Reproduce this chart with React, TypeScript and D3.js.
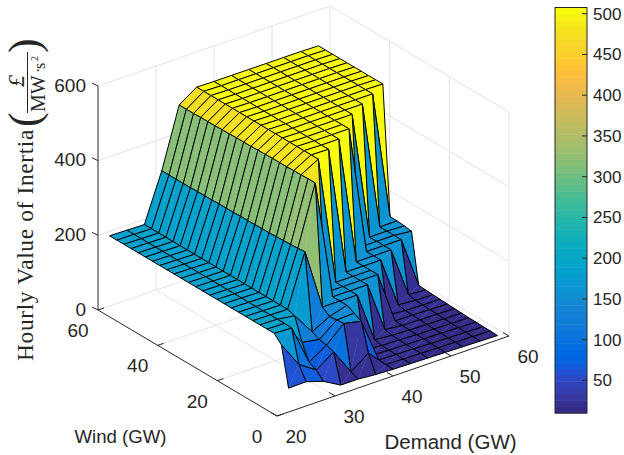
import React from 'react';
import * as d3 from 'd3';

const demandGrid = [22, 25, 28, 31, 34, 37, 40, 43, 46, 49, 52, 55, 58];
const windGrid = [0, 2.4, 4.8, 7.2, 9.6, 12, 14.4, 16.8, 19.2, 21.6, 24, 26.4, 28.8, 31.2, 33.6, 36, 38.4, 40.8, 43.2, 45.6, 48, 50.4, 52.8, 55.2, 57.6, 60];

const z22 = [64, 168, 188, 188, 188, 188, 188, 188, 188, 188, 188, 188, 188, 188, 188, 188, 188, 188, 188, 188, 188, 188, 188, 188, 188, 188];
const z25 = [65, 100, 186, 187, 187, 187, 187, 187, 187, 187, 187, 187, 187, 187, 187, 187, 187, 187, 187, 187, 187, 187, 187, 187, 187, 187];
const z28 = [50, 69, 79, 120, 180, 186, 186, 186, 186, 186, 186, 186, 186, 186, 186, 186, 186, 186, 186, 186, 186, 186, 186, 186, 186, 186];
const z31 = [24, 101, 108, 112, 121, 324, 322, 321, 320, 319, 318, 318, 317, 317, 317, 316, 316, 316, 315, 315, 315, 314, 314, 314, 314, 314];
const z34 = [24, 32, 150, 148, 146, 160, 481, 481, 480, 480, 479, 479, 479, 478, 478, 477, 477, 477, 476, 476, 475, 475, 475, 474, 474, 474];
const z37 = [20, 66, 140, 150, 160, 160, 160, 160, 506, 506, 506, 506, 506, 506, 506, 506, 506, 506, 506, 506, 506, 506, 506, 506, 506, 506];
const z40 = [18, 19, 20, 21, 24, 160, 160, 160, 160, 505, 505, 505, 505, 505, 505, 505, 505, 505, 505, 505, 505, 505, 505, 505, 505, 505];
const z43 = [17, 18, 19, 19, 20, 24, 160, 160, 160, 160, 505, 505, 505, 505, 505, 505, 505, 505, 505, 505, 505, 505, 505, 505, 505, 505];
const z46 = [16, 17, 18, 18, 19, 20, 24, 160, 160, 160, 160, 505, 505, 505, 505, 505, 505, 505, 505, 505, 505, 505, 505, 505, 505, 505];
const z49 = [15, 16, 16, 17, 17, 18, 19, 20, 24, 160, 160, 160, 160, 505, 505, 505, 505, 505, 505, 505, 505, 505, 505, 505, 505, 505];
const z52 = [14, 15, 15, 16, 16, 17, 18, 19, 20, 24, 160, 160, 160, 160, 505, 505, 505, 505, 505, 505, 505, 505, 505, 505, 505, 505];
const z55 = [13, 14, 14, 15, 15, 16, 17, 18, 19, 20, 24, 160, 160, 160, 160, 505, 505, 505, 505, 505, 505, 505, 505, 505, 505, 505];
const z58 = [12, 13, 13, 14, 14, 15, 16, 17, 18, 19, 20, 22, 155, 158, 160, 160, 504, 504, 504, 504, 504, 504, 504, 504, 504, 504];
const zRows = [z22, z25, z28, z31, z34, z37, z40, z43, z46, z49, z52, z55, z58];

const zTicks = [0, 200, 400, 600];
const windTicks = [0, 20, 40, 60];
const demandTicks = [20, 30, 40, 50, 60];
const colorTicks = [50, 100, 150, 200, 250, 300, 350, 400, 450, 500];

const parula = [
  [.2081, .1663, .5292], [.2116, .1898, .5777], [.2123, .2138, .6270], [.2081, .2386, .6771], [.1959, .2645, .7279], [.1707, .2919, .7792], [.1253, .3242, .8303], [.0591, .3598, .8683],
  [.0117, .3875, .8820], [.0060, .4086, .8828], [.0165, .4266, .8786], [.0329, .4430, .8720], [.0498, .4586, .8641], [.0629, .4737, .8554], [.0723, .4887, .8467], [.0779, .5040, .8384],
  [.0793, .5200, .8312], [.0749, .5375, .8263], [.0641, .5570, .8240], [.0488, .5772, .8228], [.0343, .5966, .8199], [.0265, .6137, .8135], [.0239, .6287, .8038], [.0231, .6418, .7913],
  [.0228, .6535, .7768], [.0267, .6642, .7607], [.0384, .6743, .7436], [.0590, .6838, .7254], [.0843, .6928, .7062], [.1133, .7015, .6859], [.1453, .7098, .6646], [.1801, .7177, .6424],
  [.2178, .7250, .6193], [.2586, .7317, .5954], [.3022, .7376, .5712], [.3482, .7424, .5473], [.3953, .7459, .5244], [.4420, .7481, .5033], [.4871, .7491, .4840], [.5300, .7491, .4661],
  [.5709, .7485, .4494], [.6099, .7473, .4337], [.6473, .7456, .4188], [.6834, .7435, .4044], [.7184, .7411, .3905], [.7525, .7384, .3768], [.7858, .7356, .3633], [.8185, .7327, .3498],
  [.8507, .7299, .3360], [.8824, .7274, .3217], [.9139, .7258, .3063], [.9450, .7261, .2886], [.9739, .7314, .2666], [.9938, .7455, .2403], [.9990, .7653, .2164], [.9955, .7861, .1967],
  [.9880, .8066, .1794], [.9789, .8271, .1633], [.9697, .8481, .1475], [.9626, .8705, .1309], [.9589, .8949, .1132], [.9598, .9218, .0948], [.9661, .9514, .0755], [.9763, .9831, .0538],
];

const C_MIN = 10;
const C_MAX = 507.6;
const colorOf = (v: number) => {
  const i = Math.max(0, Math.min(63, Math.floor(((v - C_MIN) / (C_MAX - C_MIN)) * 64)));
  const c = parula[i];
  return d3.rgb(c[0] * 255, c[1] * 255, c[2] * 255).formatHex();
};

const ox = 277;
const oy = 416;
const dX = d3.scaleLinear().domain([20, 60]).range([0, 232]);
const dY = d3.scaleLinear().domain([20, 60]).range([0, -80]);
const wX = d3.scaleLinear().domain([0, 60]).range([0, -179]);
const wY = d3.scaleLinear().domain([0, 60]).range([0, -106]);
const zY = d3.scaleLinear().domain([0, 600]).range([0, -224]);
const px = (d: number, w: number, z: number): [number, number] => [ox + dX(d) + wX(w), oy + dY(d) + wY(w) + zY(z)];
const cbY = d3.scaleLinear().domain([C_MIN, C_MAX]).range([413, 7.5]);

const seg = (a: [number, number], b: [number, number]) => `M${a[0]},${a[1]}L${b[0]},${b[1]}`;
const poly = (pts: [number, number][]) => (d3.line()(pts) as string) + 'Z';

const GRID = '#e3e3e3';
const AX = '#262626';
const font = '"Liberation Sans", Arial, sans-serif';
const serif = '"Liberation Serif", "DejaVu Serif", serif';

export default function App() {
  const grid: string[] = [];
  for (const z of zTicks) {
    grid.push(seg(px(20, 60, z), px(60, 60, z)));
    grid.push(seg(px(60, 60, z), px(60, 0, z)));
  }
  for (const d of demandTicks.slice(1)) {
    grid.push(seg(px(d, 60, 0), px(d, 60, 600)));
    if (d < 60) grid.push(seg(px(d, 60, 0), px(d, 0, 0)));
  }
  for (const w of [0, 20, 40]) {
    grid.push(seg(px(60, w, 0), px(60, w, 600)));
    if (w > 0) grid.push(seg(px(20, w, 0), px(60, w, 0)));
  }

  const cells: React.ReactNode[] = [];
  for (let i = demandGrid.length - 2; i >= 0; i--) {
    for (let j = windGrid.length - 2; j >= 0; j--) {
      const A = px(demandGrid[i], windGrid[j], zRows[i][j]);
      const B = px(demandGrid[i], windGrid[j + 1], zRows[i][j + 1]);
      const C = px(demandGrid[i + 1], windGrid[j + 1], zRows[i + 1][j + 1]);
      const D = px(demandGrid[i + 1], windGrid[j], zRows[i + 1][j]);
      const fill = colorOf(zRows[i][j]);
      cells.push(
        <g key={`${i}-${j}`}>
          <path d={poly([A, B, C])} fill={fill} stroke={fill} strokeWidth={0.4} />
          <path d={poly([A, C, D])} fill={fill} stroke={fill} strokeWidth={0.4} />
          <path d={poly([A, B, C, D])} fill="none" stroke="#000" strokeWidth={1} strokeLinejoin="round" />
        </g>
      );
    }
  }

  const ticks: string[] = [];
  for (const z of zTicks) {
    const p = px(20, 60, z);
    ticks.push(seg(p, [p[0] - 6, p[1] - 3]));
  }
  for (const w of windTicks) {
    const p = px(20, w, 0);
    ticks.push(seg(p, [p[0] + 6, p[1] - 2]));
  }
  for (const d of demandTicks) {
    const p = px(d, 0, 0);
    ticks.push(seg(p, [p[0] - 6, p[1] - 3.5]));
  }

  return (
    <svg width={624} height={455} style={{ position: 'absolute', left: 0, top: 0, background: '#fff' }}>
      <path d={grid.join('')} stroke={GRID} strokeWidth={1} fill="none" />
      {cells}
      <path
        d={seg(px(20, 60, 0), px(20, 60, 600)) + seg(px(20, 60, 0), px(20, 0, 0)) + seg(px(20, 0, 0), px(60, 0, 0)) + ticks.join('')}
        stroke={AX}
        strokeWidth={1}
        fill="none"
      />
      <g fontFamily={font} fontSize={19} fill={AX}>
        {zTicks.map((z) => {
          const p = px(20, 60, z);
          return (
            <text key={z} x={p[0] - 12} y={p[1] + 5.5} textAnchor="end">
              {z}
            </text>
          );
        })}
        {windTicks.map((w) => {
          const p = px(20, w, 0);
          return (
            <text key={w} x={p[0] - 20} y={p[1] + 27} textAnchor="middle">
              {w}
            </text>
          );
        })}
        {demandTicks.map((d) => {
          const p = px(d, 0, 0);
          return (
            <text key={d} x={p[0] + 19} y={p[1] + 27} textAnchor="middle">
              {d}
            </text>
          );
        })}
      </g>
      <text x={120.5} y={443} textAnchor="middle" fontFamily={font} fontSize={18.6} fill={AX}>
        Wind (GW)
      </text>
      <text x={450.5} y={449} textAnchor="middle" fontFamily={font} fontSize={20.5} fill={AX}>
        Demand (GW)
      </text>

      <g fontFamily={serif} fill={AX}>
        <text transform="translate(33,361) rotate(-90)" fontSize={23.5} letterSpacing={0.6}>
          Hourly Value of Inertia
        </text>
        <text transform="translate(24,87) rotate(-90)" fontSize={24} fontStyle="italic">
          £
        </text>
        <line x1={27.5} x2={27.5} y1={52} y2={113} stroke={AX} strokeWidth={1} />
        <text transform="translate(45,112) rotate(-90)" fontSize={20}>
          MW
        </text>
        <text transform="translate(44,73) rotate(-90)" fontSize={16}>
          ·
        </text>
        <text transform="translate(45,69) rotate(-90)" fontSize={16}>
          s
        </text>
        <text transform="translate(38,61) rotate(-90)" fontSize={10}>
          2
        </text>
        <text transform="translate(39,127) rotate(-90)" fontSize={44}>
          (
        </text>
        <text transform="translate(39,53) rotate(-90)" fontSize={44}>
          )
        </text>
      </g>

      {parula.map((c, i) => {
        const v0 = C_MIN + ((C_MAX - C_MIN) * i) / 64;
        const v1 = C_MIN + ((C_MAX - C_MIN) * (i + 1)) / 64;
        return <rect key={i} x={555} width={32} y={cbY(v1)} height={cbY(v0) - cbY(v1) + 0.5} fill={colorOf((v0 + v1) / 2)} />;
      })}
      <rect x={555} y={7.5} width={32} height={405.5} fill="none" stroke={AX} strokeWidth={1} />
      {colorTicks.map((t) => (
        <g key={t}>
          <line x1={582} x2={587} y1={cbY(t)} y2={cbY(t)} stroke={AX} strokeWidth={1} />
          <text x={593} y={cbY(t) + 6} fontFamily={font} fontSize={17} fill={AX}>
            {t}
          </text>
        </g>
      ))}
    </svg>
  );
}
